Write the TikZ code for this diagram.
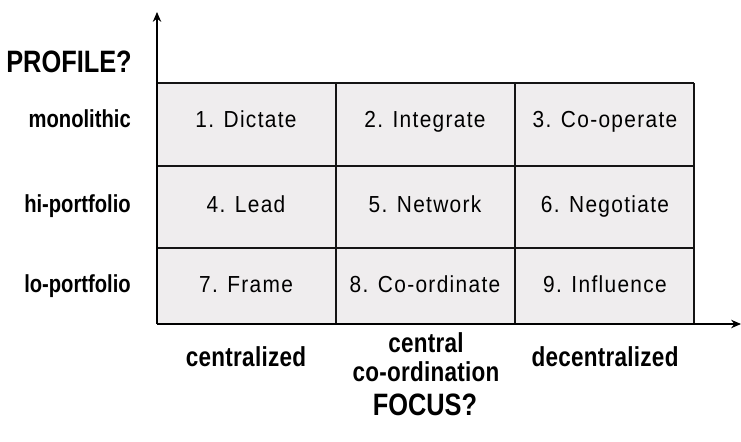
\documentclass[tikz,border=0pt]{standalone}
\usepackage{fontspec}
\setmainfont{Liberation Sans}[FakeStretch=0.82]
\newfontfamily\cellfont{Liberation Sans}[FakeStretch=0.9, LetterSpace=5.7]
\usepackage{tikz}
\usetikzlibrary{arrows.meta,positioning}
\definecolor{cellgray}{RGB}{239,237,238}
\definecolor{gridline}{RGB}{20,20,20}

\begin{document}
\begin{tikzpicture}[x=0.025cm, y=0.025cm,
  cell/.style={anchor=base, inner sep=0pt, font=\cellfont\fontsize{16.5}{18}\selectfont},
  rowlabel/.style={anchor=base east, inner sep=0pt, font=\fontsize{17.5}{19}\selectfont\bfseries},
  collabel/.style={align=center, inner sep=0pt, font=\fontsize{19.5}{21}\selectfont\bfseries\addfontfeatures{LetterSpace=1}},
  axistitle/.style={inner sep=0pt, font=\fontsize{22}{24}\selectfont\bfseries}]
  \useasboundingbox (0,0) rectangle (741,441);

  % Matrix background and grid lines
  \fill[cellgray] (157,117) rectangle (694,358);
  \foreach \x in {336,515,694}
    \draw[gridline, line width=1.1pt] (\x,117) -- (\x,358);
  \foreach \y in {193,275,358}
    \draw[gridline, line width=1.1pt] (157,\y) -- (694,\y);

  % Axes
  \coordinate (origin) at (157,117);
  \coordinate (ytip) at (157,429);
  \coordinate (xtip) at (741,117);
  \draw[-{Stealth[length=7pt,width=6pt]}, line width=1pt] (origin) -- (ytip);
  \draw[-{Stealth[length=7pt,width=6pt]}, line width=1pt] (origin) -- (xtip);

  % Cells (number/column/baseline/name)
  \foreach \i/\x/\y/\txt in {1/246/313/Dictate, 2/425/313/Integrate, 3/605/313/Co-operate,
                             4/246/228/Lead, 5/425/228/Network, 6/605/228/Negotiate,
                             7/246/149/Frame, 8/425/149/Co-ordinate, 9/605/149/Influence} {
    \node (c\i) at (\x,\y) [cell] {\i. \txt};
  }

  % Profile (rows)
  \node (profile) at (132,379) [axistitle, anchor=east] {PROFILE?};
  \node (mono) at (131,313) [rowlabel] {monolithic};
  \node (hiport) at (131,228) [rowlabel] {hi-portfolio};
  \node (loport) at (131,149) [rowlabel] {lo-portfolio};

  % Focus (columns)
  \node (central) at (246,84) [collabel] {centralized};
  \node (coord) at (426,84) [collabel] {central\\co-ordination};
  \node (decentral) at (605,84) [collabel] {decentralized};
  \node (focus) at (425,36) [axistitle] {FOCUS?};
\end{tikzpicture}
\end{document}
